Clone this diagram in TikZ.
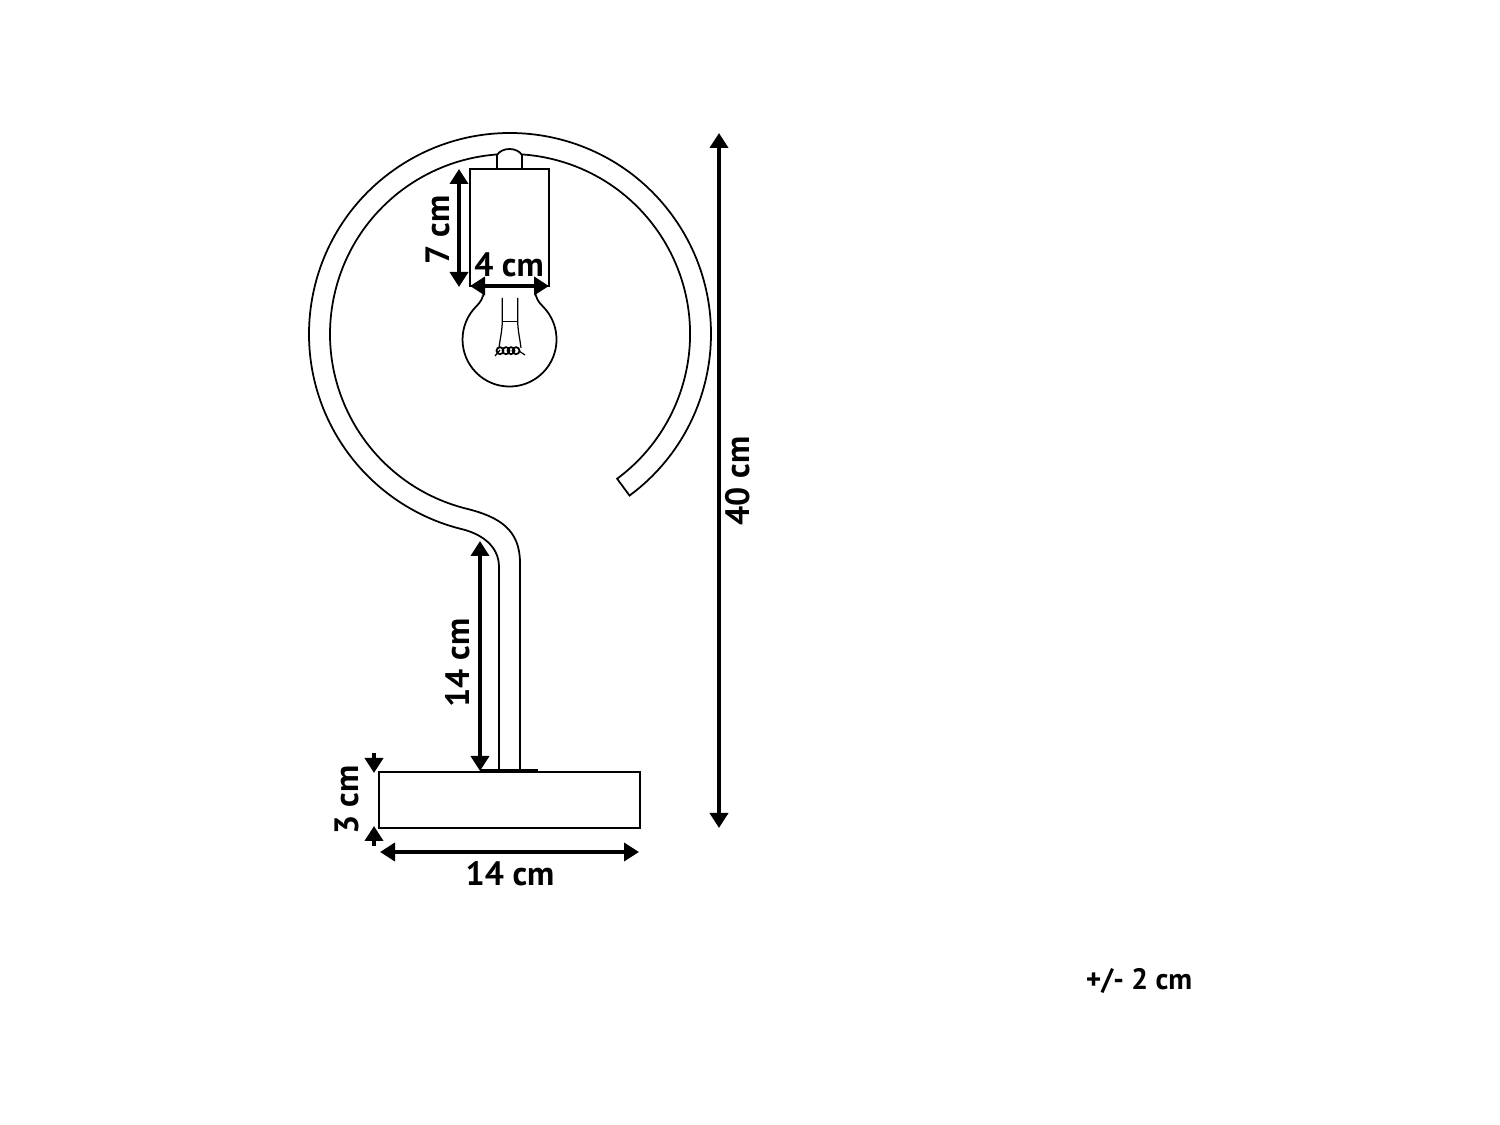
\documentclass[tikz,border=0pt]{standalone}
\usepackage{fontspec}
\setmainfont{PT Sans}
\usetikzlibrary{arrows.meta}
\tikzset{
    outline/.style={draw=black, line width=0.5pt},
    thinline/.style={draw=black, line width=0.35pt},
    dimline/.style={draw=black, line width=1.2pt, {Triangle[length=0.15cm,width=0.18cm]}-{Triangle[length=0.15cm,width=0.18cm]}},
    dimarrow/.style={draw=black, line width=1.2pt, -{Triangle[length=0.15cm,width=0.18cm]}},
    dimlabel/.style={font=\fontsize{9.6}{11}\selectfont\bfseries, inner sep=0pt}
}
\begin{document}
\begin{tikzpicture}
    \useasboundingbox (0,0) rectangle (15,11.25);

    % Ring and stem
    \draw[outline] (5.10,7.91) ++(-53.5:2.01) arc[start angle=-53.5, end angle=256, radius=2.01]
        .. controls (4.80,5.915) and (4.99,5.80) .. (4.99,5.58) -- (4.99,3.54)
        -- (5.20,3.54) -- (5.20,5.62)
        .. controls (5.20,5.95) and (5.00,6.08) .. (4.665,6.163)
        arc[start angle=256, end angle=-53.5, radius=1.80] -- cycle;

    % Base
    \draw[outline] (3.79,3.53) rectangle (6.40,2.97);
    \draw[thinline] (4.80,3.55) -- (5.38,3.55);

    % Socket
    \draw[outline, fill=white] (4.97,9.56) -- (4.97,9.70)
        .. controls (5.02,9.78) and (5.17,9.78) .. (5.22,9.70) -- (5.22,9.56) -- cycle;
    \draw[outline, fill=white] (4.70,9.56) rectangle (5.49,8.39);

    % Bulb
    \draw[outline] (4.84,8.39) -- (4.84,8.35)
        .. controls (4.84,8.28) and (4.80,8.22) .. (4.763,8.187)
        arc[start angle=135, end angle=405, radius=0.47]
        .. controls (5.39,8.22) and (5.35,8.28) .. (5.35,8.35) -- (5.35,8.39);

    % Filament
    \draw[thinline] (5.023,8.27) -- (5.023,8.033) .. controls (5.02,7.93) and (5.00,7.86) .. (4.99,7.77);
    \draw[thinline] (5.177,8.27) -- (5.177,8.033) .. controls (5.18,7.93) and (5.20,7.86) .. (5.21,7.77);
    \draw[thinline] (5.023,8.033) -- (5.177,8.033);
    \draw[thinline] (4.95,7.69) -- (5.00,7.75) (5.19,7.74) -- (5.25,7.70);
    \draw[outline] (5.00,7.743) circle (0.035) (5.06,7.743) circle (0.035)
        (5.11,7.743) circle (0.035) (5.16,7.743) circle (0.035);

    % Dimension end points
    \coordinate (htop) at (7.19,9.92);
    \coordinate (hbot) at (7.19,2.97);
    \coordinate (sockettop) at (4.59,9.56);
    \coordinate (socketbot) at (4.59,8.38);
    \coordinate (socketl) at (4.70,8.39);
    \coordinate (socketr) at (5.49,8.39);
    \coordinate (stemtop) at (4.80,5.84);
    \coordinate (stembot) at (4.80,3.54);
    \coordinate (basel) at (3.80,2.73);
    \coordinate (baser) at (6.39,2.73);
    \coordinate (downfrom) at (3.74,3.72);
    \coordinate (downto) at (3.74,3.52);
    \coordinate (upfrom) at (3.74,2.79);
    \coordinate (upto) at (3.74,2.99);

    % Dimension arrows
    \draw[dimline] (htop) -- (hbot);
    \draw[dimline] (sockettop) -- (socketbot);
    \draw[dimline] (socketl) -- (socketr);
    \draw[dimline] (stemtop) -- (stembot);
    \draw[dimline] (basel) -- (baser);
    \draw[dimarrow] (downfrom) -- (downto);
    \draw[dimarrow] (upfrom) -- (upto);

    % Labels
    \node[dimlabel, rotate=90] at (7.38,6.44) (height) {40 cm};
    \node[dimlabel, rotate=90] at (4.38,8.95) (socketh) {7 cm};
    \node[dimlabel] at (5.09,8.60) (socketw) {4 cm};
    \node[dimlabel, rotate=90] at (4.58,4.62) (stemh) {14 cm};
    \node[dimlabel] at (5.10,2.51) (basew) {14 cm};
    \node[dimlabel, rotate=90] at (3.47,3.25) (baseh) {3 cm};
    \node[dimlabel, font=\fontsize{8.4}{10}\selectfont\bfseries] at (11.39,1.44) (tol) {+/- 2 cm};
\end{tikzpicture}
\end{document}
